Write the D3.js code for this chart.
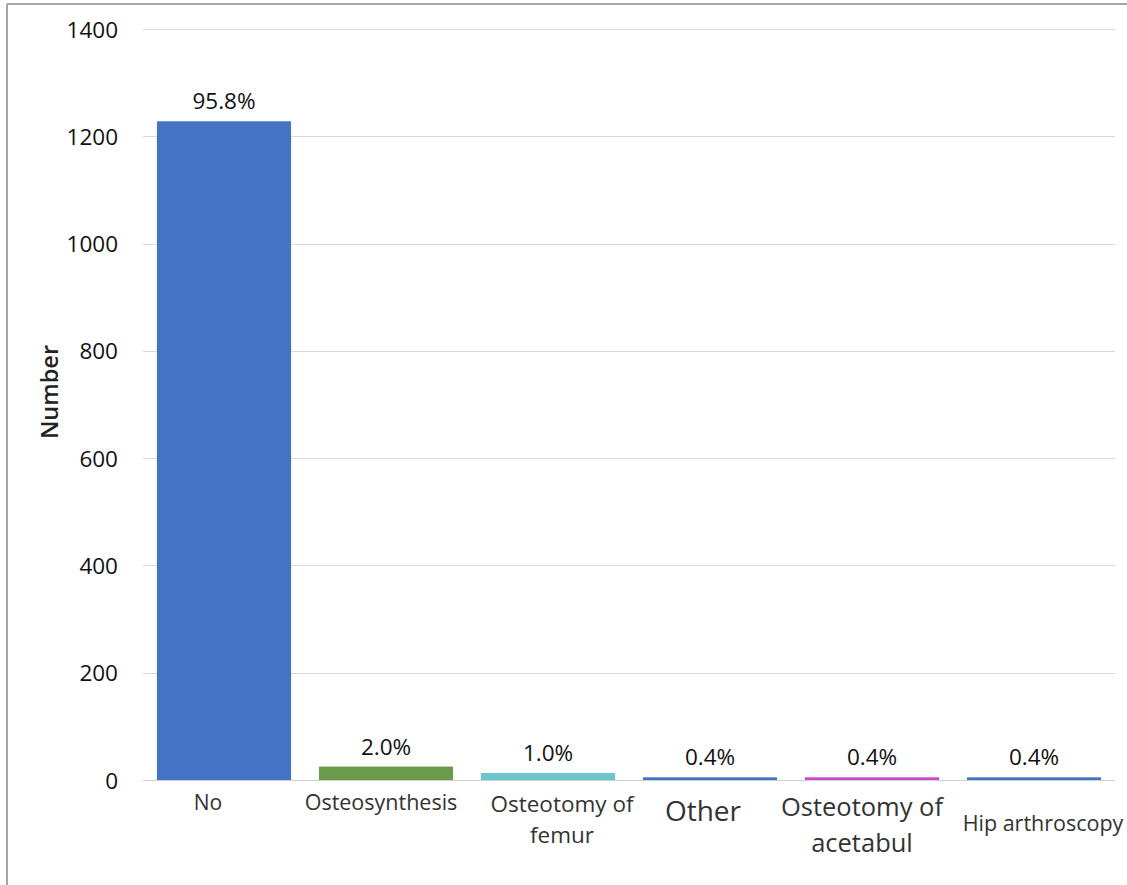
<!DOCTYPE html>
<html>
<head>
<meta charset="utf-8">
<script src="https://cdn.jsdelivr.net/npm/d3@7"></script>
<style>
  html, body { margin: 0; padding: 0; background: #fff; }
  svg { display: block; }
  text { font-family: "Open Sans", "Noto Sans", sans-serif; }
</style>
</head>
<body>
<svg id="chart" width="1127" height="885"></svg>
<script>
// ---- data ----
const categories = ["No", "Osteosynthesis", "Osteotomy of femur", "Other", "Osteotomy of acetabul", "Hip arthroscopy"];
const values = [1228, 25, 13, 5, 5, 5];
const percentLabels = ["95.8%", "2.0%", "1.0%", "0.4%", "0.4%", "0.4%"];
const yTicks = [0, 200, 400, 600, 800, 1000, 1200, 1400];

// ---- styling (not data) ----
const barColors = ["#4472C4", "#6A9A4B", "#6CC6CD", "#4472C4", "#CC44C8", "#4472C4"];
const labelLines = {
  "No": ["No"],
  "Osteosynthesis": ["Osteosynthesis"],
  "Osteotomy of femur": ["Osteotomy of", "femur"],
  "Other": ["Other"],
  "Osteotomy of acetabul": ["Osteotomy of", "acetabul"],
  "Hip arthroscopy": ["Hip arthroscopy"]
};
const labelStyle = {
  "No": { size: 21, y: 810, lh: 30, dx: -16 },
  "Osteosynthesis": { size: 21.5, y: 810, lh: 30, dx: -5 },
  "Osteotomy of femur": { size: 22.5, y: 812, lh: 31, dx: 14 },
  "Other": { size: 28, y: 821, lh: 30, dx: -7 },
  "Osteotomy of acetabul": { size: 25.5, y: 816, lh: 36, dx: -10 },
  "Hip arthroscopy": { size: 21.5, y: 831, lh: 30, dx: 9 }
};

const svg = d3.select("#chart");
const W = 1127, H = 885;

// frame
svg.append("line").attr("x1", 7).attr("x2", W).attr("y1", 4).attr("y2", 4)
  .attr("stroke", "#a6a6a6").attr("stroke-width", 2);
svg.append("line").attr("x1", 7).attr("x2", 7).attr("y1", 4).attr("y2", H)
  .attr("stroke", "#a6a6a6").attr("stroke-width", 2);

const x = d3.scaleBand().domain(categories).range([143, 1115]).paddingInner(0.172).paddingOuter(0.086);
const y = d3.scaleLinear().domain([0, 1400]).range([780, 29]);

// gridlines
const grid = svg.append("g");
grid.selectAll("line").data(yTicks.filter(d => d > 0)).join("line")
  .attr("x1", 143).attr("x2", 1115)
  .attr("y1", d => Math.round(y(d)) + 0.5).attr("y2", d => Math.round(y(d)) + 0.5)
  .attr("stroke", "#d9d9d9").attr("stroke-width", 1);

// y axis labels
const yAxis = d3.axisLeft(y).tickValues(yTicks).tickFormat(d3.format("d")).tickSize(0).tickPadding(0);
const gy = svg.append("g").attr("transform", "translate(118,0)").call(yAxis);
gy.select(".domain").remove();
gy.selectAll("text").attr("font-size", 22.5).attr("fill", "#111")
  .attr("font-family", '"Open Sans", sans-serif').attr("dy", "0.36em");

// bars
svg.append("g").selectAll("rect").data(categories).join("rect")
  .attr("x", d => x(d))
  .attr("width", x.bandwidth())
  .attr("y", (d, i) => y(values[i]))
  .attr("height", (d, i) => y(0) - y(values[i]))
  .attr("fill", (d, i) => barColors[i]);

// baseline
svg.append("line").attr("x1", 143).attr("x2", 1115).attr("y1", 780.5).attr("y2", 780.5)
  .attr("stroke", "#cfcfcf").attr("stroke-width", 1);

// value labels
svg.append("g").selectAll("text").data(categories).join("text")
  .attr("x", d => x(d) + x.bandwidth() / 2)
  .attr("y", (d, i) => y(values[i]) - 12)
  .attr("text-anchor", "middle")
  .attr("font-size", 22.5)
  .attr("fill", "#111")
  .text((d, i) => percentLabels[i]);

// category labels
const cl = svg.append("g").selectAll("text").data(categories).join("text")
  .attr("y", d => labelStyle[d].y)
  .attr("text-anchor", "middle")
  .attr("font-size", d => labelStyle[d].size)
  .attr("fill", "#333");
cl.each(function(d) {
  const t = d3.select(this);
  const cx = x(d) + x.bandwidth() / 2 + labelStyle[d].dx;
  labelLines[d].forEach((line, j) => {
    t.append("tspan").attr("x", cx)
      .attr("dy", j === 0 ? 0 : labelStyle[d].lh).text(line);
  });
});

// y axis title
svg.append("text")
  .attr("transform", "translate(58,392) rotate(-90)")
  .attr("text-anchor", "middle")
  .attr("font-size", 23.5)
  .attr("font-weight", 600)
  .attr("fill", "#222")
  .text("Number");
</script>
</body>
</html>
